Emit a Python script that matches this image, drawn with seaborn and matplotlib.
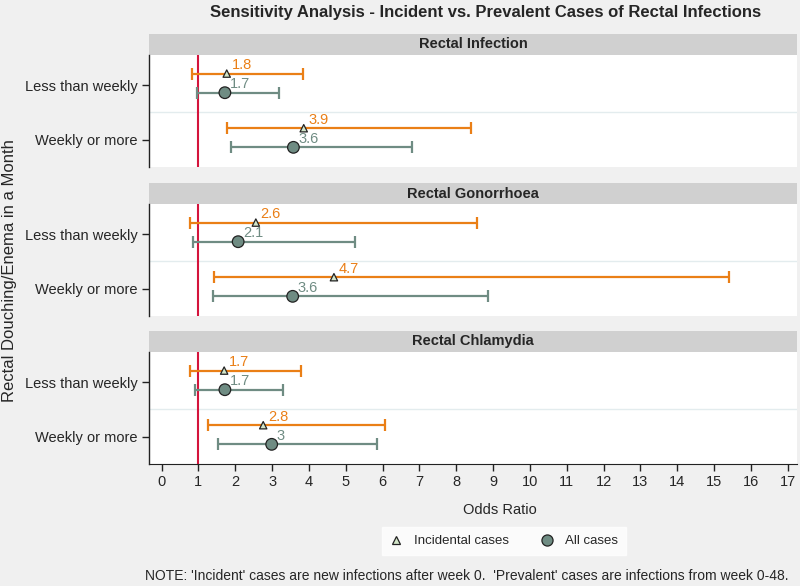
"""
Forest plot: incident vs prevalent cases of rectal infections
"""
import numpy as np
import pandas as pd
import matplotlib
matplotlib.use("Agg")
import matplotlib.pyplot as plt
from matplotlib.patches import Rectangle
from matplotlib.lines import Line2D
import seaborn as sns

# data
outcomes = ["Rectal Infection", "Rectal Gonorrhoea", "Rectal Chlamydia"]
frequency = ["Less than weekly", "Weekly or more"]
series = ["Incidental cases", "All cases"]

# incident (new) cases: odds ratio and 95% CI, ordered outcome x frequency
inc_or = [1.77, 3.86, 2.56, 4.68, 1.70, 2.76]
inc_lo = [0.82, 1.79, 0.76, 1.42, 0.77, 1.25]
inc_hi = [3.83, 8.39, 8.57, 15.41, 3.78, 6.07]

# all (prevalent) cases
all_or = [1.72, 3.58, 2.08, 3.56, 1.72, 2.99]
all_lo = [0.95, 1.89, 0.85, 1.41, 0.90, 1.54]
all_hi = [3.20, 6.79, 5.25, 8.85, 3.29, 5.84]

x_ticks = list(range(0, 18))

ORANGE = "#ea7f16"
GREY = "#6f8c83"
RED = "#d4143c"
BG = "#f0f0f0"

rows = []
for name, orv, lo, hi in [(series[0], inc_or, inc_lo, inc_hi),
                          (series[1], all_or, all_lo, all_hi)]:
    for i in range(len(orv)):
        rows.append({
            "outcome": outcomes[i // 2],
            "freq": i % 2,
            "series": name,
            "or": orv[i],
            "lo": lo[i],
            "hi": hi[i],
        })
df = pd.DataFrame(rows)
offset = {series[0]: -0.21, series[1]: 0.14}
df["y"] = df["freq"] + df["series"].map(offset)

sns.set_style("white")
plt.rcParams["font.family"] = ["Liberation Sans", "DejaVu Sans"]

W, H = 800, 586
fig = plt.figure(figsize=(8, 5.86), dpi=100, facecolor=BG)

panel_tops = [55, 204, 352]
panel_h = 112
strip_h = 21
left, right = 149, 797

for j, outcome in enumerate(outcomes):
    top = panel_tops[j]
    ax = fig.add_axes([left / W, 1 - (top + panel_h) / H, (right - left) / W, panel_h / H])
    ax.set_facecolor("white")
    sub = df[df["outcome"] == outcome]

    ax.axhline(0.5, color="#e3ecee", lw=1, zorder=0)
    ax.axvline(1, color=RED, lw=1.5, zorder=1)

    for name, col in zip(series, [ORANGE, GREY]):
        s = sub[sub["series"] == name]
        ax.errorbar(s["or"], s["y"],
                    xerr=[s["or"] - s["lo"], s["hi"] - s["or"]],
                    fmt="none", ecolor=col, elinewidth=1.6, capsize=4.5,
                    capthick=1.6, zorder=2)
        for _, r in s.iterrows():
            ax.annotate(f"{r['or']:.2g}", (r["or"], r["y"]), xytext=(3.5, 6),
                        textcoords="offset points", ha="left", va="center",
                        color=col, fontsize=10.5, zorder=4)

    sns.scatterplot(data=sub, x="or", y="y", hue="series", style="series",
                    hue_order=series, style_order=series,
                    palette={series[0]: "#d3e6c9", series[1]: GREY},
                    markers={series[0]: "^", series[1]: "o"},
                    size="series", sizes={series[0]: 28, series[1]: 70},
                    edgecolor="#222222", linewidth=0.9, legend=False,
                    zorder=3, ax=ax)

    ax.set_xlim(-0.34, 17.25)
    ax.set_ylim(1.5, -0.55)
    ax.set_yticks([0, 1])
    ax.set_yticklabels(frequency, fontsize=10.5)
    ax.set_xlabel("")
    ax.set_ylabel("")
    for sp in ["top", "right", "bottom"]:
        ax.spines[sp].set_visible(False)
    ax.spines["left"].set_color("#222222")
    ax.spines["left"].set_linewidth(1)
    ax.tick_params(axis="y", length=5, width=1, color="#222222", left=True, pad=3)

    # strip header
    ax.add_patch(Rectangle((0, 1), 1, strip_h / panel_h, transform=ax.transAxes,
                           facecolor="#d0d0d0", edgecolor="none", clip_on=False))
    ax.text(0.5, 1 + strip_h / panel_h / 2, outcome, transform=ax.transAxes,
            ha="center", va="center", fontsize=10.5, fontweight="bold")

    if j < 2:
        ax.set_xticks([])
    else:
        ax.set_xticks(x_ticks)
        ax.set_xticklabels([str(t) for t in x_ticks], fontsize=10.5)
        ax.spines["bottom"].set_visible(True)
        ax.spines["bottom"].set_color("#222222")
        ax.tick_params(axis="x", length=5, width=1, color="#222222", bottom=True, pad=3)

fig.text(486 / W, 1 - 12 / H, "Sensitivity Analysis - Incident vs. Prevalent Cases of Rectal Infections",
         ha="center", va="center", fontsize=12, fontweight="bold")
fig.text(10 / W, 1 - 271 / H, "Rectal Douching/Enema in a Month", rotation=90,
         ha="center", va="center", fontsize=12)
fig.text(500 / W, 1 - 510 / H, "Odds Ratio", ha="center", va="center", fontsize=10.5)

handles = [
    Line2D([], [], ls="none", marker="^", markersize=6, markerfacecolor="#d3e6c9",
           markeredgecolor="#222222", markeredgewidth=0.9),
    Line2D([], [], ls="none", marker="o", markersize=8, markerfacecolor=GREY,
           markeredgecolor="#222222", markeredgewidth=0.9),
]
fig.legend(handles, series, loc="center", ncol=2,
           bbox_to_anchor=(504 / W, 1 - 541 / H), frameon=True,
           fancybox=False, facecolor="white", edgecolor="white",
           fontsize=9.5, handletextpad=0.86, columnspacing=2.4,
           borderpad=0.6, handlelength=1.0)

fig.text(145 / W, 1 - 576 / H,
         "NOTE: 'Incident' cases are new infections after week 0.  'Prevalent' cases are infections from week 0-48.",
         ha="left", va="center", fontsize=10)

fig.savefig("out.png", dpi=100, facecolor=BG)
